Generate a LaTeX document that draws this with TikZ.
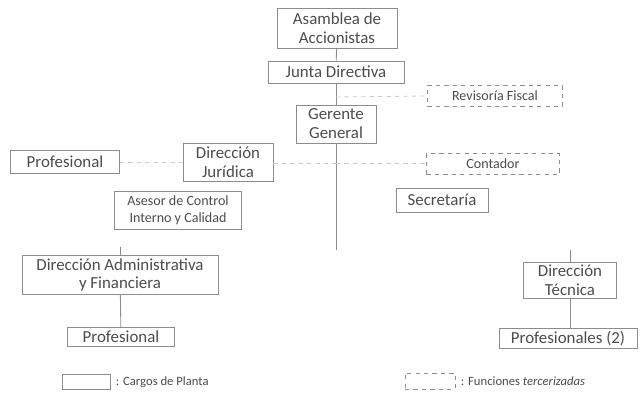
\documentclass[tikz,border=0pt]{standalone}
\usepackage{fontspec}
\setmainfont{Carlito}
\definecolor{linea}{gray}{0.55}
\definecolor{tinta}{gray}{0.3}
\tikzset{
    cargo/.style={draw=linea,line width=0.6pt,text=tinta,align=center,inner sep=0pt,font=\fontsize{12}{13.5}\selectfont},
    chico/.style={font=\fontsize{10}{12}\selectfont},
    tercero/.style={cargo,dashed},
    enlace/.style={draw=linea,line width=0.6pt},
    tenue/.style={draw=linea!45,line width=0.6pt,dashed},
    nota/.style={anchor=west,text=tinta,font=\fontsize{9}{10}\selectfont}
}
\begin{document}
\begin{tikzpicture}[x=0.025cm,y=-0.025cm]
                \useasboundingbox (0,0) rectangle (640,394);
                % direccion general
                \node[cargo,minimum width=3cm,minimum height=1cm] (asamblea) at (337,28) {Asamblea de\\Accionistas};
                \node[cargo,minimum width=3.4cm,minimum height=0.55cm] (junta) at (336,72) {Junta Directiva};
                \node[cargo,minimum width=2cm,minimum height=0.95cm] (gerente) at (336,124) {Gerente\\General};
                
                % funciones externas
                \node[tercero,chico,minimum width=3.375cm,minimum height=0.525cm] (revisoria) at (495,96) {Revisoría Fiscal};
                \node[tercero,chico,minimum width=3.325cm,minimum height=0.525cm] (contador) at (493,164) {Contador};
                \node[cargo,minimum width=2.3cm,minimum height=0.6cm] (secretaria) at (442,200) {Secretaría};
                
                % rama izquierda
                \node[cargo,minimum width=2.725cm,minimum height=0.575cm] (profA) at (65,162) {Profesional};
                \node[cargo,minimum width=2.25cm,minimum height=0.95cm] (juridica) at (228,162) {Dirección\\Jurídica};
                \node[cargo,chico,minimum width=3.175cm,minimum height=0.95cm] (asesor) at (178,210) {Asesor de Control\\Interno y Calidad};
                \node[cargo,minimum width=4.9cm,minimum height=0.975cm] (admin) at (120,275) {Dirección Administrativa\\y Financiera};
                \node[cargo,minimum width=2.675cm,minimum height=0.475cm] (profB) at (121,337) {Profesional};
                
                % rama derecha
                \node[cargo,minimum width=2.325cm,minimum height=0.9cm] (tecnica) at (570,280) {Dirección\\Técnica};
                \node[cargo,minimum width=3.45cm,minimum height=0.5cm] (profC) at (568,338) {Profesionales (2)};
                
                % conectores
                \coordinate (cRev) at (336,97);
                \coordinate (cMed) at (336,163);
                \coordinate (cFin) at (336,250);
                \coordinate (aTop) at (120,247);
                \coordinate (tTop) at (570,250);
                \draw[enlace] (asamblea) -- (junta);
                \draw[enlace] (junta) -- (gerente);
                \draw[enlace] (gerente) -- (cFin);
                \draw[tenue] (cRev) -- (revisoria.west);
                \draw[tenue] (profA) -- (juridica);
                \draw[tenue] (juridica.east |- cMed) -- (cMed);
                \draw[tenue] (cMed) -- (contador.west |- cMed);
                \draw[enlace] (aTop) -- (admin);
                \draw[enlace] (admin) -- (profB);
                \draw[enlace] (tTop) -- (tecnica);
                \draw[enlace] (tecnica) -- (profC.north -| tecnica);
                
                % convenciones
                \node[cargo,minimum width=1.2cm,minimum height=0.375cm] (legA) at (86,382) {};
                \node[nota] (legAtxt) at (111,382) {: Cargos de Planta};
                \node[tercero,minimum width=1.25cm,minimum height=0.4cm] (legB) at (430,381) {};
                \node[nota] (legBtxt) at (456,381) {: Funciones \textit{tercerizadas}};
\end{tikzpicture}
\end{document}
